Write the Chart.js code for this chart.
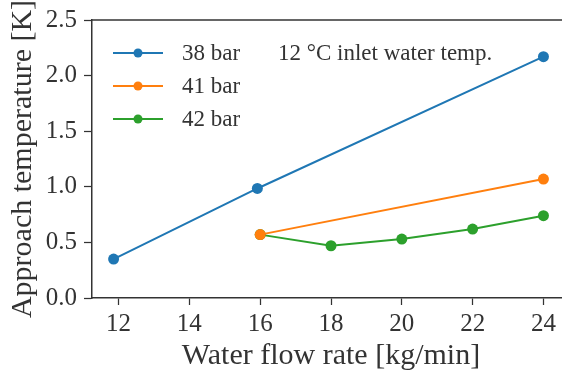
<!DOCTYPE html>
<html>
<head>
<meta charset="utf-8">
<script src="https://cdn.jsdelivr.net/npm/chart.js@4/dist/chart.umd.min.js"></script>
<style>
html,body{margin:0;padding:0;background:#fff;overflow:hidden;width:562px;height:376px;}
canvas{display:block;}
</style>
</head>
<body>
<canvas id="c" width="580" height="376"></canvas>
<script>
// ---- data ----
const seriesLabels = ["38 bar", "41 bar", "42 bar"];
const seriesColors = ["#1f77b4", "#ff7f0e", "#2ca02c"];
const flow38 = [11.86, 15.92, 24.0];
const temp38 = [0.35, 0.985, 2.17];
const flow41 = [16.0, 24.0];
const temp41 = [0.57, 1.07];
const flow42 = [16.0, 18.0, 20.0, 22.0, 24.0];
const temp42 = [0.57, 0.47, 0.53, 0.62, 0.74];
const xTicks = [12, 14, 16, 18, 20, 22, 24];
const yTicks = [0.0, 0.5, 1.0, 1.5, 2.0, 2.5];
const annotationText = "12 \u00b0C inlet water temp.";
const xTitle = "Water flow rate [kg/min]";
const yTitle = "Approach temperature [K]";

const FONT = "'Liberation Serif', 'DejaVu Serif', serif";
const INK = "#333333";

function pts(xs, ys){ return xs.map((x,i)=>({x:x, y:ys[i]})); }
const seriesData = [pts(flow38,temp38), pts(flow41,temp41), pts(flow42,temp42)];

const datasets = seriesData.map((d,i)=>({
  label: seriesLabels[i],
  data: d,
  borderColor: seriesColors[i],
  backgroundColor: seriesColors[i],
  borderWidth: 2,
  pointRadius: 5.5,
  pointHoverRadius: 5.5,
  pointBorderWidth: 0,
  tension: 0
}));

const framePlugin = {
  id: 'frame',
  afterDraw(chart){
    const ctx = chart.ctx, a = chart.chartArea;
    ctx.save();
    ctx.strokeStyle = INK;
    ctx.lineWidth = 1.5;
    ctx.beginPath();
    ctx.moveTo(a.left, a.top);
    ctx.lineTo(a.right + 2, a.top);
    ctx.stroke();
    // legend
    const rows = [53, 86, 119];
    chart.data.datasets.forEach((ds, i) => {
      const y = rows[i];
      ctx.strokeStyle = ds.borderColor;
      ctx.lineWidth = 2;
      ctx.beginPath();
      ctx.moveTo(113, y); ctx.lineTo(163, y); ctx.stroke();
      ctx.fillStyle = ds.borderColor;
      ctx.beginPath(); ctx.arc(138, y, 4.5, 0, Math.PI*2); ctx.fill();
      ctx.fillStyle = INK;
      ctx.font = "23px " + FONT;
      ctx.textAlign = 'left';
      ctx.textBaseline = 'middle';
      ctx.fillText(ds.label, 182, y + 1);
    });
    ctx.fillStyle = INK;
    ctx.font = "23px " + FONT;
    ctx.textAlign = 'left';
    ctx.textBaseline = 'middle';
    ctx.fillText(annotationText, 278, 54);
    ctx.restore();
  }
};

new Chart(document.getElementById('c'), {
  type: 'line',
  data: { datasets },
  plugins: [framePlugin],
  options: {
    responsive: false,
    animation: false,
    events: [],
    layout: { padding: { left: 0, right: 10, top: 20, bottom: 0 } },
    plugins: { legend: { display: false }, tooltip: { enabled: false } },
    scales: {
      x: {
        type: 'linear',
        min: 11.25, max: 24.75,
        afterFit(s){ s.height = 78; },
        afterBuildTicks(s){ s.ticks = xTicks.map(v=>({value:v})); },
        grid: { display: true, drawOnChartArea: false, drawTicks: true, tickLength: 7, tickWidth: 1.25, tickColor: INK },
        border: { display: true, color: INK, width: 1.5 },
        ticks: { color: INK, font: { family: FONT, size: 25 }, padding: 4, maxRotation: 0, callback: v => String(v) },
        title: { display: true, text: xTitle, color: INK, font: { family: FONT, size: 30 }, padding: { top: 0, bottom: 2 } }
      },
      y: {
        type: 'linear',
        min: 0, max: 2.5,
        afterFit(s){ s.width = 92; },
        afterBuildTicks(s){ s.ticks = yTicks.map(v=>({value:v})); },
        grid: { display: true, drawOnChartArea: false, drawTicks: true, tickLength: 8, tickWidth: 1.25, tickColor: INK },
        border: { display: true, color: INK, width: 1.5 },
        ticks: { color: INK, font: { family: FONT, size: 25, lineHeight: 1.0 }, padding: 7, callback: v => v.toFixed(1) },
        title: { display: true, text: yTitle, color: INK, font: { family: FONT, size: 30 }, padding: { top: 5, bottom: 0 } }
      }
    }
  }
});
</script>
</body>
</html>
